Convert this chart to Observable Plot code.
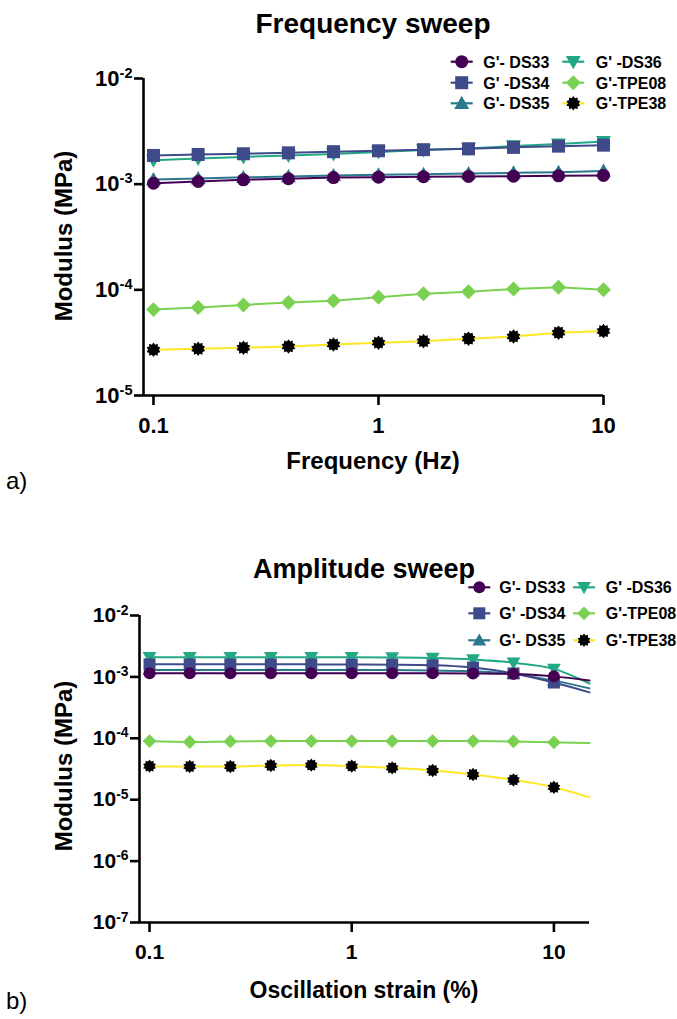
<!DOCTYPE html>
<html><head><meta charset="utf-8">
<script src="https://cdn.jsdelivr.net/npm/d3@7"></script>
<script src="https://cdn.jsdelivr.net/npm/@observablehq/plot@0.6"></script>
<style>
html,body{margin:0;padding:0;background:#fff;}
#wrap{position:relative;width:677px;height:1019px;overflow:hidden;font-family:"Liberation Sans",Arial,sans-serif;}
#wrap svg{position:absolute;left:0;overflow:visible;}
</style></head><body><div id="wrap"></div>
<script>
// ---------- data ----------
const seriesNames = ["G'- DS33", "G' -DS34", "G'- DS35", "G' -DS36", "G'-TPE08", "G'-TPE38"];
const lineColors = ["#440154", "#3e4a89", "#2a788e", "#22a884", "#7ad151", "#fde725"];
const markerColors = ["#440154", "#3e4a89", "#2a788e", "#22a884", "#7ad151", "#000000"];
const markerShapes = ["circle", "square", "triangleUp", "triangleDown", "diamond", "star"];

const xTickValues = [0.1, 1, 10];
const yTicksTop = [1e-5, 1e-4, 1e-3, 1e-2];
const yTicksBottom = [1e-7, 1e-6, 1e-5, 1e-4, 1e-3, 1e-2];

// a) Frequency sweep (MPa)
const freqHz = [0.1, 0.158, 0.251, 0.398, 0.631, 1, 1.585, 2.512, 3.981, 6.31, 10];
const freqDS33 = [1.02e-3, 1.06e-3, 1.10e-3, 1.125e-3, 1.155e-3, 1.165e-3, 1.175e-3, 1.185e-3, 1.19e-3, 1.20e-3, 1.21e-3];
const freqDS34 = [1.87e-3, 1.91e-3, 1.94e-3, 1.98e-3, 2.03e-3, 2.07e-3, 2.12e-3, 2.16e-3, 2.23e-3, 2.29e-3, 2.34e-3];
const freqDS35 = [1.11e-3, 1.13e-3, 1.16e-3, 1.18e-3, 1.21e-3, 1.23e-3, 1.24e-3, 1.26e-3, 1.28e-3, 1.30e-3, 1.33e-3];
const freqDS36 = [1.68e-3, 1.75e-3, 1.81e-3, 1.87e-3, 1.93e-3, 2.02e-3, 2.11e-3, 2.18e-3, 2.30e-3, 2.40e-3, 2.53e-3];
const freqTPE08 = [6.5e-5, 6.8e-5, 7.2e-5, 7.6e-5, 7.9e-5, 8.5e-5, 9.2e-5, 9.6e-5, 1.02e-4, 1.06e-4, 1.0e-4];
const freqTPE38 = [2.71e-5, 2.77e-5, 2.83e-5, 2.91e-5, 3.04e-5, 3.16e-5, 3.27e-5, 3.45e-5, 3.62e-5, 3.93e-5, 4.07e-5];

// b) Amplitude sweep (MPa); fitted curves continue to the last strain value
const strainPct = [0.1, 0.158, 0.251, 0.398, 0.631, 1, 1.585, 2.512, 3.981, 6.31, 10];
const strainCurveEnd = 15;
const ampDS33 = [1.15e-3, 1.15e-3, 1.15e-3, 1.15e-3, 1.15e-3, 1.15e-3, 1.15e-3, 1.15e-3, 1.14e-3, 1.12e-3, 1.02e-3];
const ampDS34 = [1.60e-3, 1.60e-3, 1.60e-3, 1.60e-3, 1.60e-3, 1.59e-3, 1.58e-3, 1.55e-3, 1.42e-3, 1.14e-3, 8.1e-4];
const ampDS35 = [1.30e-3, 1.30e-3, 1.30e-3, 1.30e-3, 1.30e-3, 1.30e-3, 1.29e-3, 1.27e-3, 1.24e-3, 1.12e-3, 8.7e-4];
const ampDS36 = [2.09e-3, 2.09e-3, 2.09e-3, 2.09e-3, 2.09e-3, 2.09e-3, 2.07e-3, 2.03e-3, 1.92e-3, 1.70e-3, 1.35e-3];
const ampTPE08 = [9.0e-5, 8.7e-5, 8.9e-5, 9.0e-5, 9.0e-5, 9.0e-5, 9.0e-5, 9.0e-5, 9.0e-5, 8.9e-5, 8.6e-5];
const ampTPE38 = [3.52e-5, 3.47e-5, 3.47e-5, 3.61e-5, 3.66e-5, 3.52e-5, 3.30e-5, 2.99e-5, 2.57e-5, 2.10e-5, 1.59e-5];
const ampCurveEnd = [8.7e-4, 5.6e-4, 6.5e-4, 7.8e-4, 8.4e-5, 1.09e-5];

// ---------- symbols ----------
const symbols = {
  circle: {draw(c, s) { const r = Math.sqrt(s / Math.PI); c.moveTo(r, 0); c.arc(0, 0, r, 0, 2 * Math.PI); c.closePath(); }},
  square: {draw(c, s) { const r = Math.sqrt(s / Math.PI); c.rect(-r, -r, 2 * r, 2 * r); }},
  triangleUp: {draw(c, s) { const r = Math.sqrt(s / Math.PI) * 1.15; c.moveTo(0, -r); c.lineTo(r, r * 0.75); c.lineTo(-r, r * 0.75); c.closePath(); }},
  triangleDown: {draw(c, s) { const r = Math.sqrt(s / Math.PI) * 1.15; c.moveTo(0, r); c.lineTo(r, -r * 0.75); c.lineTo(-r, -r * 0.75); c.closePath(); }},
  diamond: {draw(c, s) { const r = Math.sqrt(s / Math.PI) * 1.15; c.moveTo(0, -r); c.lineTo(r, 0); c.lineTo(0, r); c.lineTo(-r, 0); c.closePath(); }},
  star: {draw(c, s) {
    const r = Math.sqrt(s / Math.PI);
    const n = 10;
    for (let i = 0; i < 2 * n; i++) {
      const a = (Math.PI * i) / n - Math.PI / 2;
      const rr = i % 2 === 0 ? r * 1.12 : r * 0.82;
      const px = rr * Math.cos(a), py = rr * Math.sin(a);
      if (i === 0) c.moveTo(px, py); else c.lineTo(px, py);
    }
    c.closePath();
  }}
};

const FONT = "Liberation Sans, Arial, sans-serif";

function chart({xs, ys, curveX, curveY, xDomain, yDomain, yTicks, width, height, top, margin, symR, tickFont, curve}) {
  const marks = [];
  for (let k = seriesNames.length - 1; k >= 0; k--) {
    const pts = xs.map((x, i) => ({x, y: ys[k][i]}));
    const linePts = curveX != null ? pts.concat([{x: curveX, y: curveY[k]}]) : pts;
    marks.push(Plot.line(linePts, {x: "x", y: "y", stroke: lineColors[k], strokeWidth: 2, curve}));
    marks.push(Plot.dot(pts, {x: "x", y: "y", symbol: symbols[markerShapes[k]], r: symR, fill: markerColors[k], stroke: "none"}));
  }
  const svg = Plot.plot({
    width, height,
    marginTop: margin[0], marginRight: margin[1], marginBottom: margin[2], marginLeft: margin[3],
    x: {type: "log", domain: xDomain},
    y: {type: "log", domain: yDomain},
    style: {fontFamily: FONT, fontSize: tickFont + "px", fontWeight: "bold", color: "#000", background: "transparent", overflow: "visible"},
    marks: [
      Plot.ruleX([xDomain[0]], {stroke: "#000", strokeWidth: 2.6}),
      Plot.ruleY([yDomain[0]], {stroke: "#000", strokeWidth: 2.6}),
      Plot.axisX({ticks: xTickValues, tickFormat: d => String(d), tickSize: 10, tickPadding: 12, strokeWidth: 2.6, label: null, fontSize: tickFont, fontWeight: "bold"}),
      Plot.axisY({ticks: yTicks, tickFormat: d => String(Math.round(Math.log10(d))), tickSize: 9, tickPadding: 2, strokeWidth: 2.6, label: null, fontSize: tickFont, fontWeight: "bold"}),
      ...marks
    ]
  });
  svg.style.top = top + "px";
  d3.select(svg).selectAll('g[aria-label="y-axis tick label"] text').each(function() {
    const t = d3.select(this);
    const e = t.text();
    t.text(null);
    t.append("tspan").text("10");
    t.append("tspan").attr("dy", "-0.55em").attr("font-size", "0.66em").text(e);
  });
  return svg;
}

const wrap = document.getElementById("wrap");

wrap.appendChild(chart({
  xs: freqHz, ys: [freqDS33, freqDS34, freqDS35, freqDS36, freqTPE08, freqTPE38],
  curveX: null, curveY: null,
  xDomain: [0.0903, 10], yDomain: [1e-5, 1e-2], yTicks: yTicksTop,
  width: 677, height: 440, top: 0, margin: [78, 74, 45, 143], symR: 6.5, tickFont: 22, curve: "linear"
}));

wrap.appendChild(chart({
  xs: strainPct, ys: [ampDS33, ampDS34, ampDS35, ampDS36, ampTPE08, ampTPE38],
  curveX: strainCurveEnd, curveY: ampCurveEnd,
  xDomain: [0.0892, 15], yDomain: [1e-7, 1e-2], yTicks: yTicksBottom,
  width: 677, height: 460, top: 520, margin: [95, 88, 58, 139], symR: 6, tickFont: 21, curve: "monotone-x"
}));

// ---------- overlay: titles, axis labels, legends ----------
const ov = d3.select(wrap).append("svg").attr("width", 677).attr("height", 1019).style("top", "0px")
  .attr("font-family", FONT);

function label(x, y, txt, size, weight, rotate) {
  const t = ov.append("text").attr("text-anchor", "middle").attr("font-size", size).attr("font-weight", weight).attr("fill", "#000").text(txt);
  if (rotate) t.attr("transform", `translate(${x},${y}) rotate(-90)`); else t.attr("x", x).attr("y", y);
  return t;
}
label(373, 33, "Frequency sweep", 28, "bold");
label(373, 469, "Frequency (Hz)", 24, "bold");
label(72, 236, "Modulus (MPa)", 24, "bold", true);
label(364, 578, "Amplitude sweep", 27, "bold");
label(364, 998, "Oscillation strain (%)", 23, "bold");
label(72, 766, "Modulus (MPa)", 24, "bold", true);
ov.append("text").attr("x", 6).attr("y", 489).attr("font-size", 24).text("a)");
ov.append("text").attr("x", 6).attr("y", 1009).attr("font-size", 24).text("b)");

function legend(cols, rows, r, fontSize) {
  seriesNames.forEach((name, k) => {
    const col = cols[Math.floor(k / 3)], cy = rows[k % 3];
    ov.append("line").attr("x1", col.sym - 11).attr("x2", col.sym + 11).attr("y1", cy).attr("y2", cy)
      .attr("stroke", lineColors[k]).attr("stroke-width", 2.2);
    const p = d3.path();
    symbols[markerShapes[k]].draw(p, Math.PI * r * r);
    ov.append("path").attr("d", p.toString()).attr("transform", `translate(${col.sym},${cy})`).attr("fill", markerColors[k]);
    ov.append("text").attr("x", col.text).attr("y", cy + 5.8).attr("font-size", fontSize).attr("font-weight", "bold").text(name);
  });
}
legend([{sym: 461.7, text: 483.3}, {sym: 573.3, text: 595.7}], [61.7, 82.7, 103.3], 6.5, 16);
legend([{sym: 479.3, text: 499.3}, {sym: 584, text: 605.7}], [587.3, 613.3, 640.3], 6, 16);
</script></body></html>
